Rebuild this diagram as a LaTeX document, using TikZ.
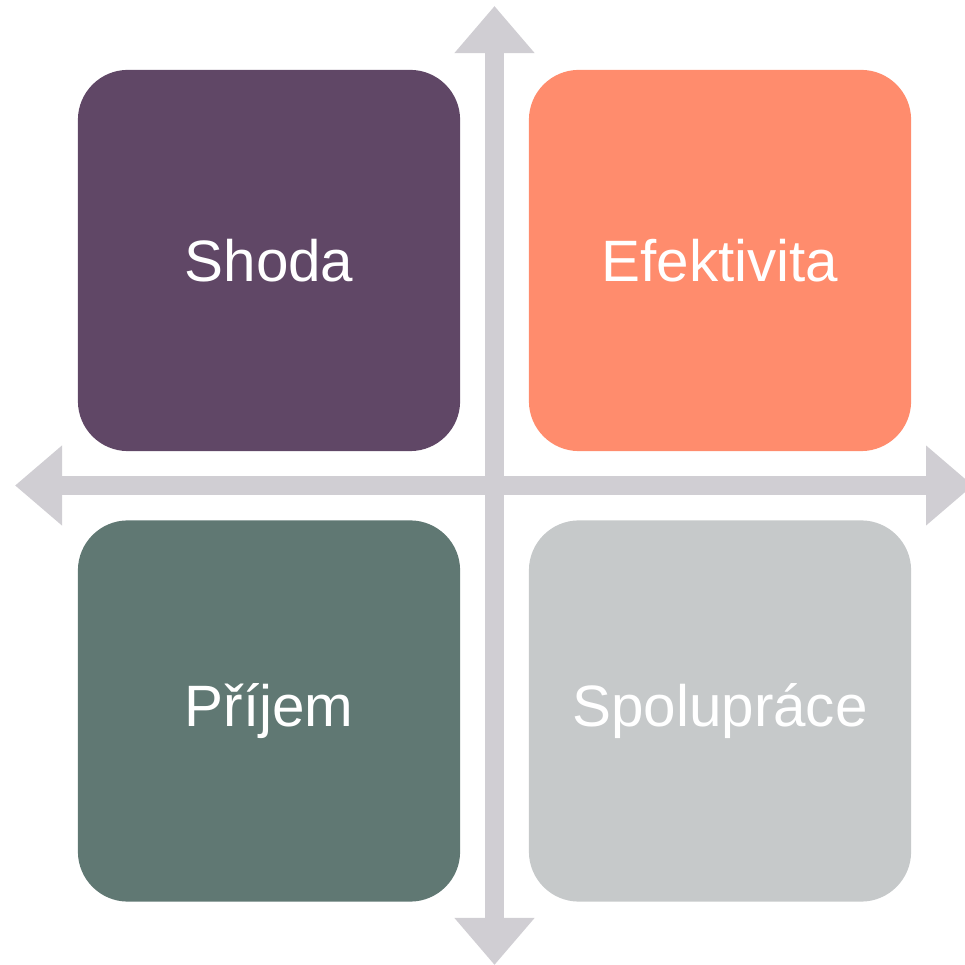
\documentclass[tikz,border=0pt]{standalone}
\usepackage{fontspec}
\setmainfont{Liberation Sans}
\usetikzlibrary{arrows.meta}
\definecolor{shodaclr}{HTML}{604766}
\definecolor{efektclr}{HTML}{FF8C6D}
\definecolor{prijemclr}{HTML}{607873}
\definecolor{spoluclr}{HTML}{C6C9CA}
\definecolor{axisclr}{HTML}{D0CED3}
\begin{document}
\begin{tikzpicture}[x=0.01cm,y=-0.01cm,
  quad/.style={fill=#1,rounded corners=0.5cm,minimum width=3.82cm,minimum height=3.81cm,inner sep=0pt,text=white,font=\fontsize{16.6}{19}\selectfont},
  axis/.style={draw=axisclr,line width=0.19cm,{Triangle[length=0.47cm,width=0.77cm]}-{Triangle[length=0.47cm,width=0.77cm]}}]
\useasboundingbox (0,0) rectangle (964,965);
\coordinate (top) at (494.5,6);
\coordinate (bottom) at (494.5,965);
\coordinate (left) at (15,485.5);
\coordinate (right) at (973,485.5);
\draw[axis] (top) -- (bottom);
\draw[axis] (left) -- (right);
\node[quad=shodaclr] (shoda) at (269,260.5) {Shoda};
\node[quad=efektclr] (efektivita) at (720,260.5) {Efektivita};
\node[quad=prijemclr] (prijem) at (269,711) {Příjem};
\node[quad=spoluclr] (spoluprace) at (720,711) {Spolupráce};
\end{tikzpicture}
\end{document}
